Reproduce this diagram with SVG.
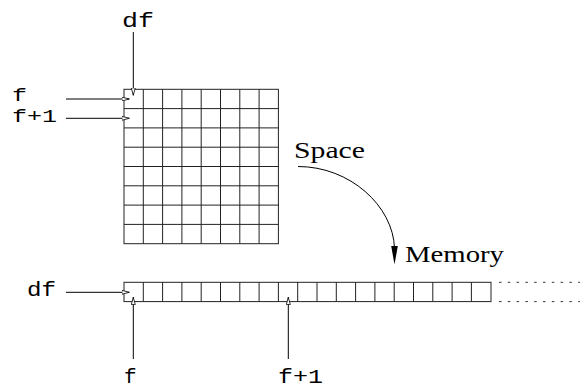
<svg xmlns="http://www.w3.org/2000/svg" width="580" height="389" viewBox="0 0 580 389">
<defs>
<style>
.g{stroke:#222;stroke-width:1;fill:none}
.c{stroke:#000;stroke-width:1;fill:none}
.tt{font-family:"Liberation Mono","DejaVu Sans Mono",monospace;font-size:21px;fill:#000}
.sm{font-size:18px}
.rm{font-family:"Liberation Serif","DejaVu Serif",serif;font-size:23px;fill:#000}
.dot{stroke:#333;stroke-width:1;stroke-dasharray:2.5 6.3;fill:none}
</style>
<marker id="open" viewBox="0 0 10 6" refX="10" refY="3" markerWidth="8" markerHeight="4.8" markerUnits="userSpaceOnUse" orient="auto">
<path d="M0.5,0.5 L9.5,3 L0.5,5.5 Z" fill="#fff" stroke="#000" stroke-width="1"/>
</marker>
</defs>
<rect width="580" height="389" fill="#fff"/>
<g id="grid">
<rect x="124" y="89.3" width="154.4" height="154.4" class="g"/>
<path class="g" d="M143.3,89.3V243.7M162.6,89.3V243.7M181.9,89.3V243.7M201.2,89.3V243.7M220.5,89.3V243.7M239.8,89.3V243.7M259.1,89.3V243.7
M124,108.6H278.4M124,127.9H278.4M124,147.2H278.4M124,166.5H278.4M124,185.8H278.4M124,205.1H278.4M124,224.4H278.4"/>
</g>
<g id="strip">
<rect x="124" y="282.3" width="367" height="19.3" class="g"/>
<path class="g" d="M143.3,282.3v19.3M162.6,282.3v19.3M181.9,282.3v19.3M201.2,282.3v19.3M220.5,282.3v19.3M239.8,282.3v19.3M259.1,282.3v19.3M278.4,282.3v19.3M297.7,282.3v19.3M317,282.3v19.3M336.3,282.3v19.3M355.6,282.3v19.3M374.9,282.3v19.3M394.2,282.3v19.3M413.5,282.3v19.3M432.8,282.3v19.3M452.1,282.3v19.3M471.4,282.3v19.3"/>
<path class="dot" d="M499,282.3H580M499,301.6H580"/>
</g>
<g id="labels">
<text class="tt" x="122" y="26.5" textLength="32" lengthAdjust="spacingAndGlyphs">df</text>
<text class="tt sm" x="12" y="100.5" textLength="15" lengthAdjust="spacingAndGlyphs">f</text>
<text class="tt sm" x="12" y="121.5" textLength="45" lengthAdjust="spacingAndGlyphs">f+1</text>
<text class="tt" x="27" y="296" textLength="29" lengthAdjust="spacingAndGlyphs">df</text>
<text class="tt" x="124" y="383">f</text>
<text class="tt" x="278" y="383" textLength="45" lengthAdjust="spacingAndGlyphs">f+1</text>
<text class="rm" x="294" y="158" textLength="71" lengthAdjust="spacingAndGlyphs">Space</text>
<text class="rm" x="405" y="262" textLength="99" lengthAdjust="spacingAndGlyphs">Memory</text>
</g>
<g id="connectors">
<path class="c" d="M133.3,32V95.5" marker-end="url(#open)"/>
<path class="c" d="M66,99H129.5" marker-end="url(#open)"/>
<path class="c" d="M66,118.3H129.5" marker-end="url(#open)"/>
<path class="c" d="M66,292.3H129.5" marker-end="url(#open)"/>
<path class="c" d="M133.3,359V297" marker-end="url(#open)"/>
<path class="c" d="M288.3,359V297" marker-end="url(#open)"/>
<path class="c" d="M298,166.5C350,166.5 393,206 394.5,248"/>
<path d="M394.5,264.5L391.2,246L397.8,246Z" fill="#000"/>
</g>
</svg>
